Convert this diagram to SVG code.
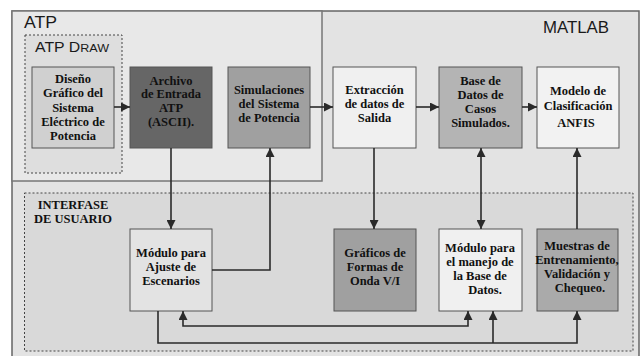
<svg xmlns="http://www.w3.org/2000/svg" width="641" height="356" viewBox="0 0 641 356">
<style>
text.t{font-family:'Liberation Serif','Times New Roman',serif;font-weight:700;font-size:12.5px;fill:#111;text-anchor:middle}
text.h{font-family:'Liberation Sans',Arial,sans-serif;fill:#1a1a1a}
.box{stroke:#555;stroke-width:1}
.c{fill:none;stroke:#2a2a2a;stroke-width:1.6}
</style>
<defs>
<marker id="ah" viewBox="0 0 10 10" refX="10" refY="5" markerWidth="9" markerHeight="9" markerUnits="userSpaceOnUse" orient="auto-start-reverse">
<path d="M0,0 L10,5 L0,10 z" fill="#2a2a2a"/>
</marker>
</defs>
<rect x="0" y="0" width="641" height="356" fill="#ffffff"/>
<g id="matlab">
<rect x="12" y="11" width="627" height="350" fill="#e3e3e3" stroke="#666" stroke-width="1.5"/>
<text class="h" x="609" y="33" font-size="16" text-anchor="end" textLength="66" lengthAdjust="spacingAndGlyphs">MATLAB</text>
</g>
<g id="atp">
<rect x="12" y="11" width="310" height="170" fill="#e8e8e8" stroke="#777" stroke-width="1.5"/>
<text class="h" x="24" y="28" font-size="16" textLength="33" lengthAdjust="spacingAndGlyphs">ATP</text>
</g>
<g id="atpdraw">
<rect x="25" y="35" width="97" height="138" fill="#dedede" stroke="#444" stroke-width="1" stroke-dasharray="2,2"/>
<text class="h" x="35" y="52" font-size="14.5" textLength="74" lengthAdjust="spacingAndGlyphs">ATP D<tspan font-size="11.5">RAW</tspan></text>
</g>
<g id="interfase" font-family="Liberation Serif, serif">
<rect x="24.5" y="193" width="608.5" height="158" fill="#d9d9d9" stroke="#444" stroke-width="1" stroke-dasharray="2,2"/>
<text class="t" x="73" y="209" font-size="11.5">INTERFASE</text>
<text class="t" x="73" y="223" font-size="11.5">DE USUARIO</text>
</g>
<g id="diseno" font-family="Liberation Serif, serif">
<rect class="box" x="32" y="67" width="82" height="81" fill="#d0d0d0"/>
<text class="t" x="73" y="83">Diseño</text>
<text class="t" x="73" y="97">Gráfico del</text>
<text class="t" x="73" y="111.5">Sistema</text>
<text class="t" x="73" y="126">Eléctrico de</text>
<text class="t" x="73" y="140">Potencia</text>
</g>
<g id="archivo" font-family="Liberation Serif, serif">
<rect class="box" x="130" y="67" width="82" height="81" fill="#666666"/>
<text class="t" x="171" y="85">Archivo</text>
<text class="t" x="171" y="98">de Entrada</text>
<text class="t" x="171" y="111.5">ATP</text>
<text class="t" x="171" y="126">(ASCII).</text>
</g>
<g id="simulaciones" font-family="Liberation Serif, serif">
<rect class="box" x="228" y="67" width="82" height="81" fill="#a0a0a0"/>
<text class="t" x="269" y="94">Simulaciones</text>
<text class="t" x="269" y="108">del Sistema</text>
<text class="t" x="269" y="122">de Potencia</text>
</g>
<g id="extraccion" font-family="Liberation Serif, serif">
<rect class="box" x="333" y="67" width="83" height="81" fill="#f0f0f0"/>
<text class="t" x="374.5" y="94">Extracción</text>
<text class="t" x="374.5" y="108">de datos de</text>
<text class="t" x="374.5" y="122">Salida</text>
</g>
<g id="basedatos" font-family="Liberation Serif, serif">
<rect class="box" x="439" y="67" width="83" height="81" fill="#b4b4b4"/>
<text class="t" x="480.5" y="85">Base de</text>
<text class="t" x="480.5" y="99">Datos de</text>
<text class="t" x="480.5" y="113">Casos</text>
<text class="t" x="480.5" y="127">Simulados.</text>
</g>
<g id="modelo" font-family="Liberation Serif, serif">
<rect class="box" x="537" y="67" width="82" height="81" fill="#f2f2f2"/>
<text class="t" x="578" y="95">Modelo de</text>
<text class="t" x="578" y="110">Clasificación</text>
<text class="t" x="576" y="127" font-size="9">ANFIS</text>
</g>
<g id="ajuste" font-family="Liberation Serif, serif">
<rect class="box" x="130" y="229" width="82" height="82" fill="#e3e3e3"/>
<text class="t" x="171" y="257">Módulo para</text>
<text class="t" x="171" y="271">Ajuste de</text>
<text class="t" x="171" y="285">Escenarios</text>
</g>
<g id="graficos" font-family="Liberation Serif, serif">
<rect class="box" x="334" y="229" width="82" height="82" fill="#a0a0a0"/>
<text class="t" x="375" y="257">Gráficos de</text>
<text class="t" x="375" y="271">Formas de</text>
<text class="t" x="375" y="285">Onda V/I</text>
</g>
<g id="manejo" font-family="Liberation Serif, serif">
<rect class="box" x="439" y="229" width="83" height="82" fill="#f0f0f0"/>
<text class="t" x="480" y="252">Módulo para</text>
<text class="t" x="480" y="266">el manejo de</text>
<text class="t" x="480" y="280">la Base de</text>
<text class="t" x="485" y="294">Datos.</text>
</g>
<g id="muestras" font-family="Liberation Serif, serif">
<rect class="box" x="537" y="229" width="81" height="82" fill="#aaaaaa"/>
<text class="t" x="577" y="250">Muestras de</text>
<text class="t" x="577" y="264">Entrenamiento,</text>
<text class="t" x="577" y="278">Validación y</text>
<text class="t" x="580" y="292">Chequeo.</text>
</g>
<g id="connectors">
<path class="c" d="M114,107 H130" marker-end="url(#ah)"/>
<path class="c" d="M310,107 H333" marker-end="url(#ah)"/>
<path class="c" d="M416,107 H439" marker-end="url(#ah)"/>
<path class="c" d="M522,107 H537" marker-end="url(#ah)"/>
<path class="c" d="M171,148 V229" marker-end="url(#ah)"/>
<path class="c" d="M212,270 H270 V148" marker-end="url(#ah)"/>
<path class="c" d="M374,148 V229" marker-end="url(#ah)"/>
<path class="c" d="M481,148 V229" marker-start="url(#ah)" marker-end="url(#ah)"/>
<path class="c" d="M577,229 V148" marker-end="url(#ah)"/>
<path class="c" d="M158,311 V343 H577 V311" marker-end="url(#ah)"/>
<path class="c" d="M493,343 V311" marker-end="url(#ah)"/>
<path class="c" d="M468,311 V326 H183 V311" marker-start="url(#ah)" marker-end="url(#ah)"/>
</g>
</svg>
